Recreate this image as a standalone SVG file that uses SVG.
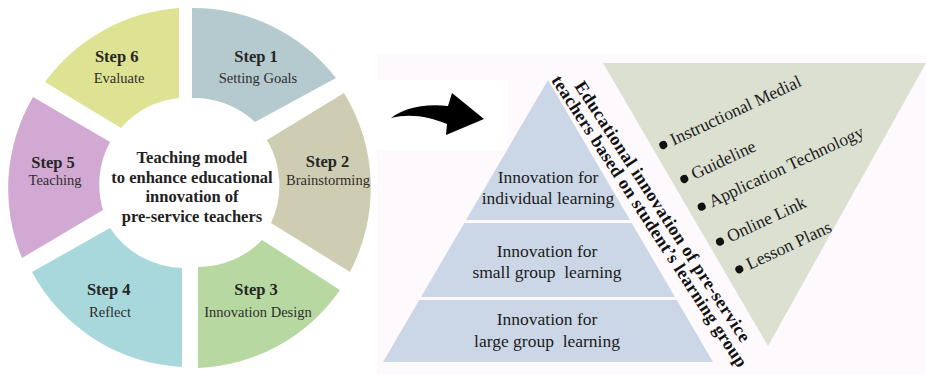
<svg xmlns="http://www.w3.org/2000/svg" width="926" height="375" viewBox="0 0 926 375">
  <style>
    .serif { font-family: "Liberation Serif", "Times New Roman", serif; }
    .step { font-size: 16.5px; font-weight: bold; fill: #262626; text-anchor: middle; }
    .sub { font-size: 14.5px; fill: #2e2e2e; text-anchor: middle; }
    .core { font-size: 16.5px; font-weight: bold; fill: #222; text-anchor: middle; }
    .tier { fill: #cbd7e6; }
    .tier-text { font-size: 17.5px; fill: #1c1c1c; text-anchor: middle; }
    .item { font-size: 17.5px; fill: #1c1c1c; }
    .dot { fill: #111; }
    .side { font-size: 18px; font-weight: bold; fill: #111; text-anchor: middle; }
  </style>

  <!-- page -->
  <rect width="926" height="375" fill="#ffffff"/>
  <path d="M377,55 H926 V375 H377 V150 H507 V80 H377 Z" fill="#fdf9fd"/>

  <!-- cycle wheel -->
  <g id="step1">
    <path d="M192,8 A181,181 0 0 1 336,78 L255,122 A89,89 0 0 0 192,98 Z" fill="#b4cace"/>
    <text class="serif step" x="256" y="62">Step 1</text>
    <text class="serif sub" x="258" y="83">Setting Goals</text>
  </g>
  <g id="step2">
    <path d="M344,93 A181,181 0 0 1 350,272 L271,223 A89,89 0 0 0 267,140 Z" fill="#cecdb1"/>
    <text class="serif step" x="327.5" y="167">Step 2</text>
    <text class="serif sub" x="328" y="185">Brainstorming</text>
  </g>
  <g id="step3">
    <path d="M340,290 A181,181 0 0 1 198,368 L198,267 A89,89 0 0 0 262,240 Z" fill="#b7d9a1"/>
    <text class="serif step" x="256" y="295">Step 3</text>
    <text class="serif sub" x="258" y="317">Innovation Design</text>
  </g>
  <g id="step4">
    <path d="M182,367 A181,181 0 0 1 32,272 L110,228 A89,89 0 0 0 182,268 Z" fill="#a8d8dc"/>
    <text class="serif step" x="108.7" y="295">Step 4</text>
    <text class="serif sub" x="110" y="317">Reflect</text>
  </g>
  <g id="step5">
    <path d="M22,258 A181,181 0 0 1 33,97 L110,142 A89,89 0 0 0 103,210 Z" fill="#d1a9d2"/>
    <text class="serif step" x="53" y="168">Step 5</text>
    <text class="serif sub" x="55" y="185">Teaching</text>
  </g>
  <g id="step6">
    <path d="M45,82 A181,181 0 0 1 179,8 L179,98 A89,89 0 0 0 121,128 Z" fill="#dee293"/>
    <text class="serif step" x="116.7" y="62">Step 6</text>
    <text class="serif sub" x="119" y="83">Evaluate</text>
  </g>
  <g id="model-core">
    <text class="serif core" x="192" y="163">Teaching model</text>
    <text class="serif core" x="192" y="182.5">to enhance educational</text>
    <text class="serif core" x="192" y="202">innovation of</text>
    <text class="serif core" x="192" y="221.5">pre-service teachers</text>
  </g>

  <!-- connectors -->
  <g id="connectors">
    <path d="M391,118 C401,110 421,103 448,106 L452,93 L484,119 L446,135 L447,124 C430,117 410,113 391,118 Z" fill="#000"/>
  </g>

  <!-- learning-group pyramid -->
  <g id="tier-individual">
    <polygon class="tier" points="548,80 630,220 466,220"/>
    <text class="serif tier-text" x="548" y="183">Innovation for</text>
    <text class="serif tier-text" x="548" y="204">individual learning</text>
  </g>
  <g id="tier-small">
    <polygon class="tier" points="464.3,223 631.7,223 675,297 421,297"/>
    <text class="serif tier-text" x="547" y="257">Innovation for</text>
    <text class="serif tier-text" x="547" y="278">small group&#160; learning</text>
  </g>
  <g id="tier-large">
    <polygon class="tier" points="419.3,300 676.7,300 713,362 383,362"/>
    <text class="serif tier-text" x="547" y="325">Innovation for</text>
    <text class="serif tier-text" x="547" y="347">large group&#160; learning</text>
  </g>

  <!-- slanted caption between the two triangles -->
  <g id="caption" transform="translate(651,219) rotate(57)">
    <text class="serif side" x="0" y="-8" textLength="307">Educational innovation of pre-service</text>
    <text class="serif side" x="1" y="8.5" textLength="344">teachers based on student’s learning group</text>
  </g>

  <!-- resource list -->
  <g id="resources">
    <polygon points="603,63 926,63 768,346" fill="#dbe0d1"/>
    <g transform="translate(663.3,145) rotate(-25)">
      <circle class="dot" cx="0" cy="0" r="4"/>
      <text class="serif item" x="9" y="5">Instructional Medial</text>
    </g>
    <g transform="translate(684.3,179) rotate(-25)">
      <circle class="dot" cx="0" cy="0" r="4"/>
      <text class="serif item" x="9" y="5">Guideline</text>
    </g>
    <g transform="translate(701.7,206.7) rotate(-25)">
      <circle class="dot" cx="0" cy="0" r="4"/>
      <text class="serif item" x="9" y="5">Application Technology</text>
    </g>
    <g transform="translate(720,241.7) rotate(-25)">
      <circle class="dot" cx="0" cy="0" r="4"/>
      <text class="serif item" x="9" y="5">Online Link</text>
    </g>
    <g transform="translate(739.3,269.3) rotate(-25)">
      <circle class="dot" cx="0" cy="0" r="4"/>
      <text class="serif item" x="9" y="5">Lesson Plans</text>
    </g>
  </g>
</svg>
